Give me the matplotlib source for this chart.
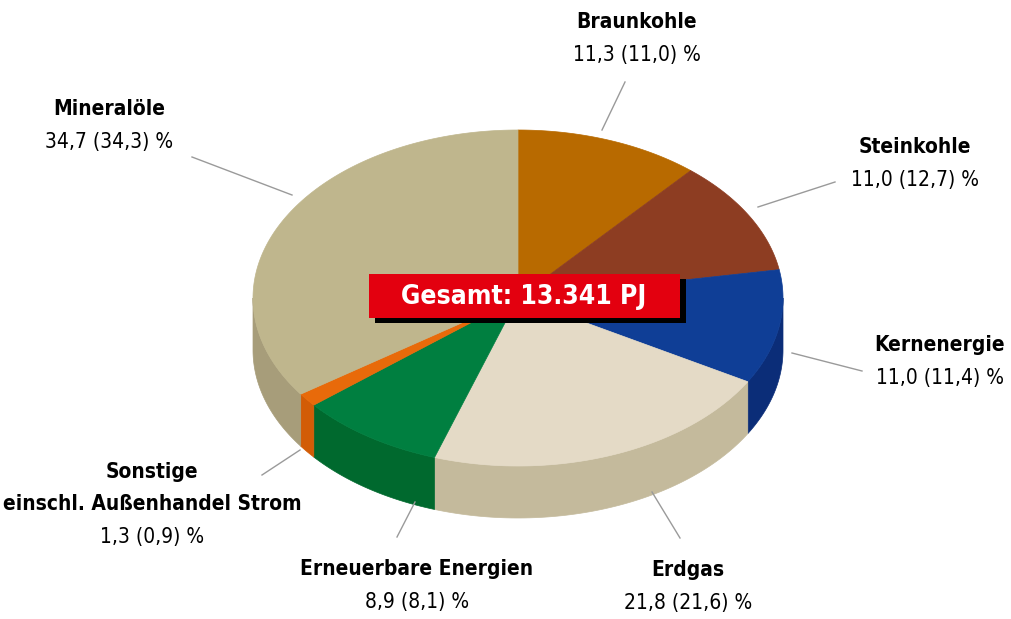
import numpy as np
import matplotlib
matplotlib.use('Agg')
import matplotlib.pyplot as plt
from matplotlib import font_manager
from matplotlib.patches import Polygon, Rectangle

# data (share of primary energy consumption, previous year in brackets)
labels = ['Braunkohle', 'Steinkohle', 'Kernenergie', 'Erdgas',
          'Erneuerbare Energien', 'Sonstige\neinschl. Außenhandel Strom', 'Mineralöle']
shares = [11.3, 11.0, 11.0, 21.8, 8.9, 1.3, 34.7]
prev = ['11,0', '12,7', '11,4', '21,6', '8,1', '0,9', '34,3']
total_text = 'Gesamt: 13.341 PJ'

top_cols = ['#B86A00', '#8D3D22', '#0F3E96', '#E4DAC6', '#007F40', '#E86A0A', '#BFB68D']
side_cols = ['#A05C00', '#7A3419', '#0B2D78', '#C4BA9C', '#00692E', '#D25C06', '#A79D7A']

# value-line centres (pixel coords) and leader lines
label_pos = [(637, 55), (915, 180), (940, 378), (688, 603), (417, 602), (152, 537), (109, 142)]
leaders = [((625, 82), (602, 130)), ((835, 182), (758, 207)), ((862, 371), (792, 353)),
           ((680, 538), (652, 492)), ((397, 537), (415, 502)), ((262, 475), (300, 450)),
           ((192, 157), (292, 195))]

names = {f.name for f in font_manager.fontManager.ttflist}
if 'Liberation Sans Narrow' in names:
    fam = ['Liberation Sans Narrow', 'DejaVu Sans']
    stretch = 'normal'
else:
    fam = ['DejaVu Sans']
    stretch = 'condensed'

fig = plt.figure(figsize=(10.12, 6.19), dpi=100)
ax = fig.add_axes([0, 0, 1, 1])
ax.set_xlim(0, 1012)
ax.set_ylim(619, 0)
ax.axis('off')

cx, cy, a, b, depth = 518, 298, 265, 168, 52

def pt(th):
    t = np.radians(th)
    return cx + a * np.sin(t), cy - b * np.cos(t)

bounds = np.concatenate([[0], np.cumsum(shares)]) / sum(shares) * 360

# side walls (only front half, 90..270 deg)
for i in range(len(shares)):
    s, e = max(bounds[i], 90), min(bounds[i + 1], 270)
    if e <= s:
        continue
    th = np.linspace(s, e, 80)
    xs, ys = pt(th)
    poly = list(zip(xs, ys)) + list(zip(xs[::-1], ys[::-1] + depth))
    ax.add_patch(Polygon(poly, closed=True, fc=side_cols[i], ec=side_cols[i], lw=0.5))

# top face
for i in range(len(shares)):
    th = np.linspace(bounds[i], bounds[i + 1], 120)
    xs, ys = pt(th)
    poly = [(cx, cy)] + list(zip(xs, ys))
    ax.add_patch(Polygon(poly, closed=True, fc=top_cols[i], ec=top_cols[i], lw=0.5))

# total box with shadow
ax.add_patch(Rectangle((375, 279), 311, 44, fc='black', ec='none'))
ax.add_patch(Rectangle((369, 274), 311, 44, fc='#E3000F', ec='none'))
ax.text(524, 297, total_text, color='white', fontsize=19, fontweight='bold',
        family=fam, stretch=stretch, ha='center', va='center')

# labels
for i, lab in enumerate(labels):
    x, y = label_pos[i]
    nl = lab.count('\n')
    val = '%s (%s) %%' % (('%.1f' % shares[i]).replace('.', ','), prev[i])
    ax.text(x, y - 33 - 16 * nl, lab, fontsize=15, fontweight='bold', family=fam,
            stretch=stretch, ha='center', va='center', linespacing=1.72)
    ax.text(x, y, val, fontsize=15, family=fam, stretch=stretch,
            ha='center', va='center')
    (x0, y0), (x1, y1) = leaders[i]
    ax.plot([x0, x1], [y0, y1], color='#9A9A9A', lw=1)

fig.savefig('out.png', dpi=100)
